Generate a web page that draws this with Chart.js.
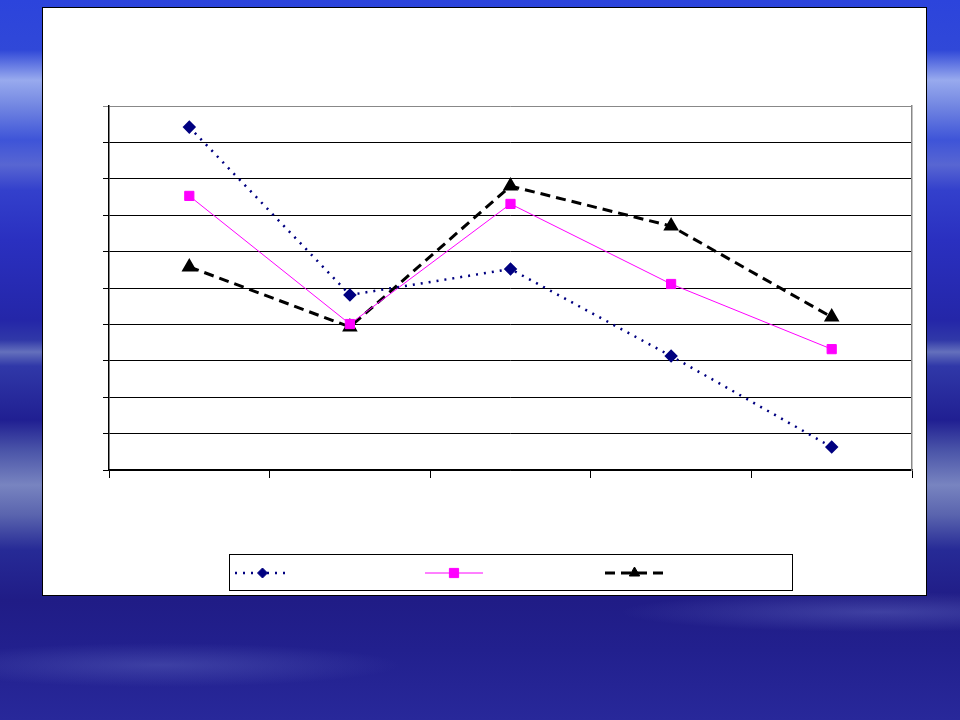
<!DOCTYPE html>
<html>
<head>
<meta charset="utf-8">
<script src="https://cdn.jsdelivr.net/npm/chart.js@4.4.1/dist/chart.umd.min.js"></script>
<style>
  html, body { margin: 0; padding: 0; }
  body {
    width: 960px; height: 720px; overflow: hidden; position: relative;
    background:
      radial-gradient(ellipse 240px 22px at 160px 665px, rgba(110,120,200,0.35), rgba(110,120,200,0) 100%),
      radial-gradient(ellipse 260px 20px at 880px 612px, rgba(120,130,210,0.35), rgba(120,130,210,0) 100%),
      linear-gradient(to bottom,
        #2c44dc 0px, #3048d8 50px, #98aaee 80px, #7488e2 105px, #3e54d8 140px,
        #5866d2 165px, #3340cc 190px, #2a30c0 240px, #2426a8 320px,
        #3038a8 340px, #6470bc 352px, #3038a8 366px, #201f92 420px,
        #4a54a8 450px, #7884c0 485px, #5a64ae 515px, #262a96 550px,
        #201c86 600px, #22208e 650px, #28289a 720px);
  }
  #panel {
    position: absolute; left: 42px; top: 7px; width: 883px; height: 587px;
    background: #fff; border: 1px solid #000;
  }
  #panel canvas { display: block; }
</style>
</head>
<body>
<div id="panel"><canvas id="chart" width="883" height="587"></canvas></div>
<script>
// Data (no labels are shown in the reference)
const categories = ['', '', '', '', ''];
const seriesA = [9.42, 4.81, 5.52, 3.13, 0.63];  // navy, dotted, diamonds
const seriesB = [7.53, 4.01, 7.31, 5.11, 3.32];  // magenta, solid, squares
const seriesC = [5.58, 3.93, 7.80, 6.70, 4.20];  // black, dashed, triangles

// legend box drawn on the canvas: line + marker samples, no text
const boxLegend = {
  id: 'boxLegend',
  afterDraw(chart) {
    const ctx = chart.ctx;
    ctx.save();
    ctx.strokeStyle = '#000';
    ctx.lineWidth = 1;
    ctx.strokeRect(186.5, 546.5, 563, 36);
    const cy = 565;
    const slots = [[192, 247], [382, 440], [562, 621]];
    chart.data.datasets.forEach((ds, i) => {
      const [x0, x1] = slots[i];
      ctx.beginPath();
      ctx.setLineDash(ds.borderDash || []);
      ctx.strokeStyle = ds.borderColor;
      ctx.lineWidth = ds.borderWidth;
      ctx.moveTo(x0, cy);
      ctx.lineTo(x1, cy);
      ctx.stroke();
      ctx.setLineDash([]);
      ctx.fillStyle = ds.pointBackgroundColor;
      ctx.strokeStyle = ds.pointBorderColor;
      ctx.lineWidth = 1;
      Chart.helpers.drawPoint(ctx, {
        pointStyle: ds.pointStyle, radius: ds.pointRadius, borderWidth: 1
      }, (x0 + x1) / 2, cy);
    });
    ctx.restore();
  }
};

new Chart(document.getElementById('chart'), {
  type: 'line',
  data: {
    labels: categories,
    datasets: [
      {
        data: seriesA,
        borderColor: '#000080', borderWidth: 2.5, borderDash: [2, 6],
        pointStyle: 'rectRot', pointRadius: 5,
        pointBackgroundColor: '#000080', pointBorderColor: '#000080',
        tension: 0
      },
      {
        data: seriesB,
        borderColor: '#ff00ff', borderWidth: 1,
        pointStyle: 'rect', pointRadius: 6.5,
        pointBackgroundColor: '#ff00ff', pointBorderColor: '#ff00ff',
        tension: 0
      },
      {
        data: seriesC,
        borderColor: '#000000', borderWidth: 3, borderDash: [10, 6],
        pointStyle: 'triangle', pointRadius: 6,
        pointBackgroundColor: '#000000', pointBorderColor: '#000000',
        tension: 0
      }
    ]
  },
  options: {
    responsive: false,
    animation: false,
    layout: { padding: { left: 60, right: 14, top: 98, bottom: 117 } },
    plugins: { legend: { display: false }, tooltip: { enabled: false } },
    scales: {
      x: {
        offset: true,
        grid: { offset: true, drawOnChartArea: false, drawTicks: true, tickLength: 8, color: '#000', lineWidth: 1 },
        border: { color: '#000', width: 1.5 },
        ticks: { display: false }
      },
      y: {
        min: 0, max: 10,
        ticks: { display: false, stepSize: 1 },
        grid: {
          color: c => c.index === 10 ? '#888' : '#000',
          lineWidth: 1, drawTicks: true, tickLength: 6
        },
        border: { color: '#000', width: 1.5 }
      },
      y2: {
        position: 'right', min: 0, max: 10,
        ticks: { display: false },
        grid: { drawOnChartArea: false, drawTicks: false },
        border: { color: '#888', width: 1.5 }
      }
    }
  },
  plugins: [boxLegend]
});
</script>
</body>
</html>
